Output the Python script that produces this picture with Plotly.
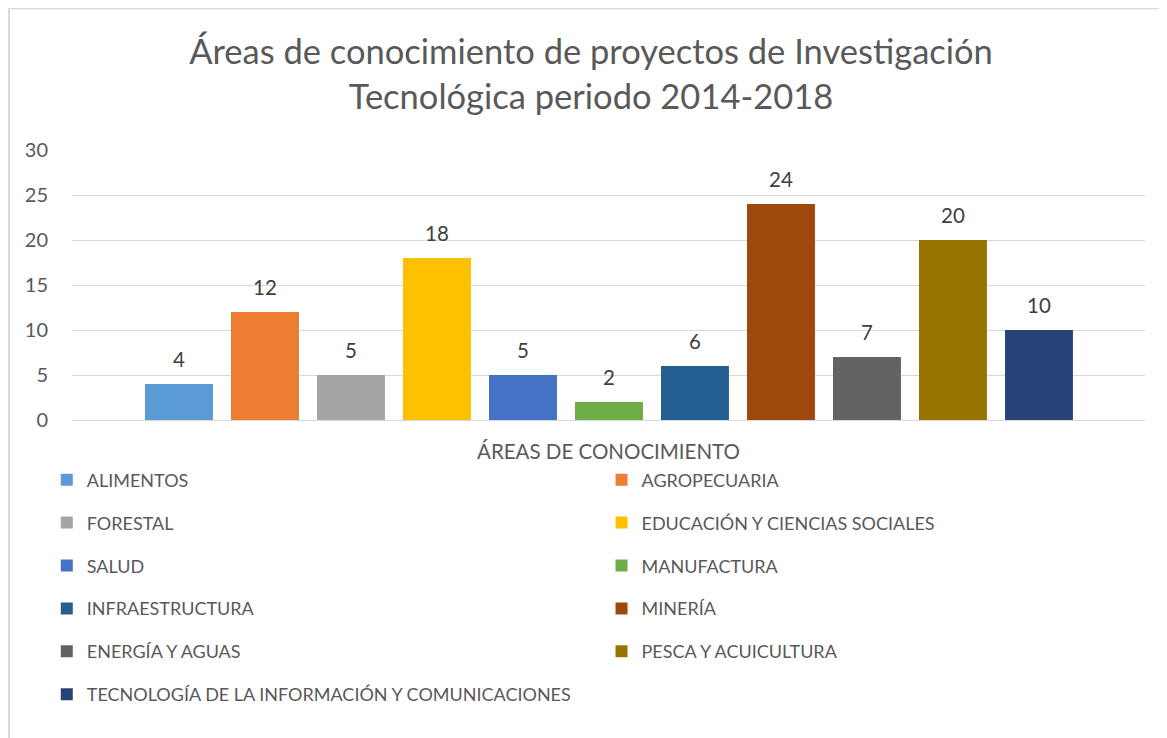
import plotly.graph_objects as go

# datos
areas = ["ALIMENTOS", "AGROPECUARIA", "FORESTAL", "EDUCACIÓN Y CIENCIAS SOCIALES",
         "SALUD", "MANUFACTURA", "INFRAESTRUCTURA", "MINERÍA", "ENERGÍA Y AGUAS",
         "PESCA Y ACUICULTURA", "TECNOLOGÍA DE LA INFORMACIÓN Y COMUNICACIONES"]
proyectos = [4, 12, 5, 18, 5, 2, 6, 24, 7, 20, 10]
colores = ["#5B9BD5", "#ED7D31", "#A5A5A5", "#FFC000", "#4472C4", "#70AD47",
           "#255E91", "#9E480E", "#636363", "#997300", "#264478"]

gris = "#595959"
fuente = "Lato"

fig = go.Figure()
for i, (a, v, c) in enumerate(zip(areas, proyectos, colores)):
    fig.add_trace(go.Bar(x=[i], y=[v], name=a, width=0.79,
                         marker=dict(color=c, line=dict(width=0)),
                         legend="legend" if i % 2 == 0 else "legend2",
                         legendgroup=a, hoverinfo="name+y"))
    fig.add_annotation(x=i, y=v, text=str(v), showarrow=False, yanchor="bottom",
                       yshift=11, font=dict(family=fuente, size=20.5, color="#404040"))

# marco del grafico (solo borde izquierdo y superior visibles)
fig.add_shape(type="line", xref="paper", yref="paper", x0=-0.0587, x1=1.04,
              y0=1.525, y1=1.525, line=dict(color="#D9D9D9", width=2))
fig.add_shape(type="line", xref="paper", yref="paper", x0=-0.0587, x1=-0.0587,
              y0=1.525, y1=-1.3, line=dict(color="#D9D9D9", width=2))

leyenda = dict(orientation="v", font=dict(family=fuente, size=18, color=gris),
               tracegroupgap=16.5, bgcolor="rgba(0,0,0,0)", yanchor="top")

fig.update_layout(
    width=1167, height=738,
    margin=dict(l=64, r=30, t=142, b=326),
    paper_bgcolor="white", plot_bgcolor="white",
    barmode="overlay",
    title=dict(text="Áreas de conocimiento de proyectos de Investigación<br>Tecnológica periodo 2014-2018",
               x=583 / 1167, xanchor="center", y=1 - 56 / 738, yanchor="middle",
               font=dict(family=fuente, size=34.5, color=gris)),
    xaxis=dict(range=[-1.244, 11.233], showticklabels=False, showgrid=False,
               zeroline=False, showline=False,
               title=dict(text="ÁREAS DE CONOCIMIENTO", standoff=24,
                          font=dict(family=fuente, size=20.5, color=gris))),
    yaxis=dict(range=[0, 30], dtick=5, gridcolor="#D9D9D9", gridwidth=1.3,
               zeroline=True, zerolinecolor="#D9D9D9", zerolinewidth=1.3,
               ticklabelstandoff=23,
               tickfont=dict(family=fuente, size=20, color=gris)),
    legend=dict(leyenda, x=-0.0235, y=-0.1537),
    legend2=dict(leyenda, x=0.4935, y=-0.1537),
    showlegend=True,
)

fig.write_html("out.html")
